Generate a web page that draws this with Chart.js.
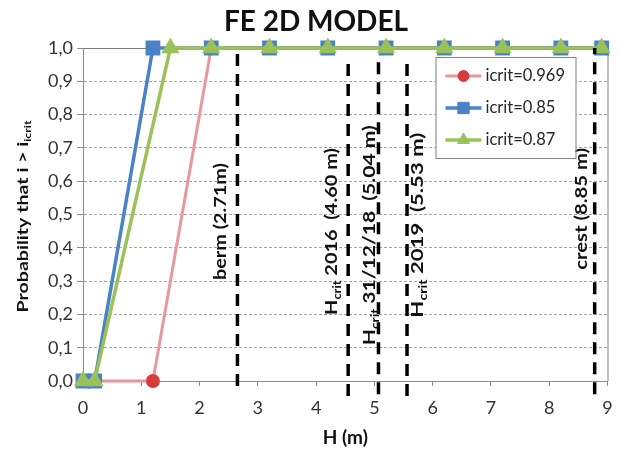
<!DOCTYPE html>
<html><head><meta charset="utf-8">
<script src="https://cdn.jsdelivr.net/npm/chart.js@4.4.1/dist/chart.umd.min.js"></script>
<style>html,body{margin:0;padding:0;background:#fff;}#wrap{width:619px;height:452px;}</style>
</head><body><div id="wrap"><canvas id="c" width="619" height="452"></canvas></div>
<script>
// ---- data ----
const chartTitle = 'FE 2D MODEL';
const seriesNames = ['icrit=0.969', 'icrit=0.85', 'icrit=0.87'];
const hRed   = [0, 0.2, 1.2, 2.2, 3.2, 4.2, 5.2, 6.2, 7.2, 8.2, 8.9];
const pRed   = [0, 0,   0,   1,   1,   1,   1,   1,   1,   1,   1];
const hBlue  = [0, 0.2, 1.2, 2.2, 3.2, 4.2, 5.2, 6.2, 7.2, 8.2, 8.9];
const pBlue  = [0, 0,   1,   1,   1,   1,   1,   1,   1,   1,   1];
const hGreen = [0, 0.2, 1.5, 2.2, 3.2, 4.2, 5.2, 6.2, 7.2, 8.2, 8.9];
const pGreen = [0, 0,   1,   1,   1,   1,   1,   1,   1,   1,   1];
const refH      = [2.65, 4.55, 5.07, 5.56, 8.78];
const refBottom = [-0.015, -0.045, -0.04, -0.045, -0.04];
const refTop    = [1.0, 0.97, 0.975, 0.97, 1.0];
const refTexts = [
  [['berm (2.71m)', 0]],
  [['H', 0], ['crit', 1], [' 2016  (4.60 m)', 0]],
  [['H', 0], ['crit', 1], [' 31/12/18  (5.04 m)', 0]],
  [['H', 0], ['crit', 1], [' 2019  (5.53 m)', 0]],
  [['crest (8.85 m)', 0]]
];
const xTicks = [0, 1, 2, 3, 4, 5, 6, 7, 8, 9];
const yTicks = [0, 0.1, 0.2, 0.3, 0.4, 0.5, 0.6, 0.7, 0.8, 0.9, 1.0];
const yTickLabels = ['0,0','0,1','0,2','0,3','0,4','0,5','0,6','0,7','0,8','0,9','1,0'];

// ---- styles ----
const FONT = 'Lato, "Open Sans", sans-serif';
const refTextPos = [ // [pixel offset from line, centre y value, text length px]
  [-17, 0.479, 117], [-17, 0.449, 167], [-9, 0.438, 220], [10, 0.468, 185], [-14, 0.517, 122]
];
const pts = (xs, ys) => xs.map((x, i) => ({x: x, y: ys[i]}));

const datasets = [
  {label: seriesNames[0], data: pts(hRed, pRed), borderColor: '#E8989A', backgroundColor: '#D93A3C',
   pointBackgroundColor: '#D93A3C', pointBorderColor: '#D93A3C', pointStyle: 'circle', pointRadius: 5.5,
   borderWidth: 3, order: 3, clip: false},
  {label: seriesNames[1], data: pts(hBlue, pBlue), borderColor: '#4A82C6', backgroundColor: '#4A82C6',
   pointBackgroundColor: '#4A82C6', pointBorderColor: '#4A82C6', pointStyle: 'rect', pointRadius: 8,
   borderWidth: 3.5, order: 2, clip: false},
  {label: seriesNames[2], data: pts(hGreen, pGreen), borderColor: '#9BC25A', backgroundColor: '#9BC25A',
   pointBackgroundColor: '#9BC25A', pointBorderColor: '#9BC25A', pointStyle: 'triangle', pointRadius: 7,
   borderWidth: 3.5, order: 1, clip: false}
];
refH.forEach((h, i) => {
  datasets.push({label: '_ref' + i, data: [{x: h, y: refBottom[i]}, {x: h, y: refTop[i]}],
    borderColor: '#000', borderWidth: 3.5, borderDash: [12, 8], pointRadius: 0, order: 0, clip: false});
});

function drawRich(ctx, parts, cx, cy, size, targetLen) {
  ctx.save();
  ctx.translate(cx, cy);
  ctx.rotate(-Math.PI / 2);
  ctx.fillStyle = '#111';
  ctx.textBaseline = 'alphabetic';
  ctx.textAlign = 'left';
  const fonts = parts.map(p => p[1] ? `bold ${Math.round(size * 0.62)}px ${FONT}` : `bold ${size}px ${FONT}`);
  const widths = parts.map((p, i) => { ctx.font = fonts[i]; return ctx.measureText(p[0]).width; });
  const total = widths.reduce((a, b) => a + b, 0);
  if (targetLen) ctx.scale(targetLen / total, 1);
  let x = -total / 2;
  parts.forEach((p, i) => {
    ctx.font = fonts[i];
    ctx.fillText(p[0], x, size * 0.35 + (p[1] ? size * 0.22 : 0));
    x += widths[i];
  });
  ctx.restore();
}

const extras = {
  id: 'extras',
  beforeDatasetsDraw(chart) {
    const {ctx, chartArea: a} = chart;
    ctx.save();
    ctx.strokeStyle = '#7F7F7F';
    ctx.lineWidth = 1;
    ctx.beginPath();
    ctx.moveTo(a.left, a.top + 0.5); ctx.lineTo(a.right + 0.5, a.top + 0.5); ctx.lineTo(a.right + 0.5, a.bottom);
    ctx.stroke();
    ctx.restore();
  },
  afterDatasetsDraw(chart) {
    const {ctx, chartArea: a, scales: {x, y}} = chart;
    refTexts.forEach((parts, i) => {
      drawRich(ctx, parts, x.getPixelForValue(refH[i]) + refTextPos[i][0], y.getPixelForValue(refTextPos[i][1]), 17, refTextPos[i][2]);
    });
    // y axis title
    drawRich(ctx, [['Probability that i > i', 0], ['icrit', 1]], 22, (a.top + a.bottom) / 2 + 2, 16, 192);
    // chart title
    ctx.save();
    ctx.fillStyle = '#111';
    ctx.font = `bold 28px ${FONT}`;
    ctx.textAlign = 'center';
    ctx.textBaseline = 'middle';
    ctx.fillText(chartTitle, 316, 22);
    ctx.restore();
    // legend
    const L = a.right - 172, T = a.top + 9, W = 140, H = 101;
    ctx.save();
    ctx.fillStyle = '#fff';
    ctx.fillRect(L, T, W, H);
    ctx.strokeStyle = '#7F7F7F';
    ctx.lineWidth = 1;
    ctx.strokeRect(L + 0.5, T + 0.5, W, H);
    for (let k = 0; k < 3; k++) {
      const ds = datasets[k];
      const cy = T + 19 + k * 32;
      ctx.strokeStyle = ds.borderColor;
      ctx.lineWidth = ds.borderWidth;
      ctx.beginPath(); ctx.moveTo(L + 10, cy); ctx.lineTo(L + 46, cy); ctx.stroke();
      ctx.fillStyle = ds.pointBackgroundColor;
      ctx.strokeStyle = ds.pointBorderColor;
      ctx.lineWidth = 1;
      Chart.helpers.drawPoint(ctx, {pointStyle: ds.pointStyle, radius: ds.pointRadius, borderWidth: 1, rotation: 0}, L + 28, cy);
      ctx.fillStyle = '#262626';
      ctx.font = `16.5px ${FONT}`;
      ctx.textBaseline = 'middle';
      ctx.textAlign = 'left';
      ctx.fillText(ds.label, L + 50, cy);
    }
    ctx.restore();
  }
};

new Chart(document.getElementById('c'), {
  type: 'line',
  data: {datasets: datasets},
  plugins: [extras],
  options: {
    responsive: false, animation: false, devicePixelRatio: 1,
    layout: {padding: {left: 0, right: 9, top: 48, bottom: 0}},
    elements: {line: {tension: 0}},
    plugins: {legend: {display: false}, tooltip: {enabled: false}, title: {display: false}},
    scales: {
      x: {
        type: 'linear', min: 0, max: 9,
        afterBuildTicks: s => { s.ticks = xTicks.map(v => ({value: v})); },
        ticks: {font: {family: FONT, size: 18}, color: '#333', padding: 11, maxRotation: 0},
        grid: {drawOnChartArea: false, drawTicks: true, tickLength: 5, color: '#8C8C8C'},
        border: {color: '#8C8C8C', width: 1},
        title: {display: true, text: 'H (m)', color: '#111', font: {family: FONT, size: 19, weight: 'bold'}, padding: {top: 2, bottom: 3}},
        afterFit: s => { s.height = 71; s.paddingLeft = 0; s.paddingRight = 0; }
      },
      y: {
        min: 0, max: 1,
        afterBuildTicks: s => { s.ticks = yTicks.map(v => ({value: v})); },
        ticks: {font: {family: FONT, size: 18}, color: '#333', padding: 4,
          callback: v => yTickLabels[yTicks.indexOf(v)]},
        grid: {color: '#A6A6A6', lineWidth: 1, tickLength: 6, tickColor: '#8C8C8C', tickBorderDash: []},
        border: {dash: [3, 2], color: '#8C8C8C', width: 1},
        afterFit: s => { s.width = 83; s.paddingTop = 0; s.paddingBottom = 0; }
      }
    }
  }
});
</script></body></html>
